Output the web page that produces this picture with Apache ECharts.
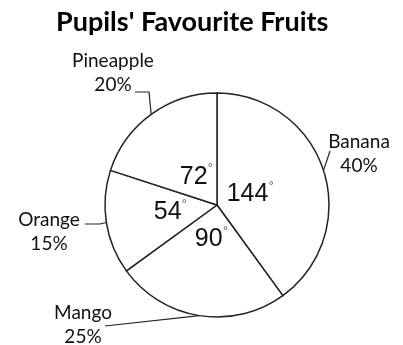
<!DOCTYPE html>
<html>
<head>
<meta charset="utf-8">
<script src="https://cdn.jsdelivr.net/npm/echarts@6/dist/echarts.min.js"></script>
<style>
html,body{margin:0;padding:0;background:#fff;}
#main{width:403px;height:345px;}
</style>
</head>
<body>
<div id="main"></div>
<script>
var fruits = ['Banana', 'Mango', 'Orange', 'Pineapple'];
var percents = [40, 25, 15, 20];
var degrees = [144, 90, 54, 72];

// where the outside labels sit and how their leader lines bend
var labelPos = {
	Banana: [359, 154],
	Mango: [83, 325],
	Orange: [49, 232],
	Pineapple: [113, 73]
};
var lineBends = {
	Banana: [[330, 151]],
	Mango: [[105, 326]],
	Orange: [[100, 224], [85, 224]],
	Pineapple: [[149, 92], [135, 92]]
};

var outerData = [];
var innerData = [];
for (var i = 0; i < fruits.length; i++) {
	outerData.push({name: fruits[i], value: percents[i]});
	var item = {name: fruits[i], value: percents[i], deg: degrees[i]};
	if (fruits[i] == 'Orange') {
		item.label = {offset: [-12, 2]};
	}
	innerData.push(item);
}

var myChart = echarts.init(document.getElementById('main'));
var option = {
	animation: false,
	title: {
		text: "Pupils' Favourite Fruits",
		left: 51,
		top: 4,
		textStyle: {fontFamily: 'Lato', fontWeight: 'bold', fontSize: 27, color: '#000'}
	},
	series: [
		{
			type: 'pie',
			center: [217, 205],
			radius: [0, 112],
			startAngle: 90,
			clockwise: true,
			itemStyle: {color: '#fff', borderColor: '#222', borderWidth: 1.5},
			emphasis: {disabled: true},
			label: {
				show: true,
				position: 'outside',
				overflow: 'none',
				fontFamily: 'Lato',
				fontSize: 19,
				lineHeight: 24,
				color: '#111',
				align: 'center',
				formatter: function (p) {
					return p.name + '\n' + p.value + '%';
				}
			},
			labelLine: {show: true, lineStyle: {color: '#222', width: 1.2}},
			labelLayout: function (params) {
				var name = fruits[params.dataIndex];
				var pts = params.labelLinePoints;
				var linePts = [pts[0]].concat(lineBends[name]);
				if (linePts.length < 3) linePts.push(linePts[linePts.length - 1]);
				return {
					x: labelPos[name][0],
					y: labelPos[name][1],
					align: 'center',
					verticalAlign: 'middle',
					width: 120,
					labelLinePoints: linePts
				};
			},
			data: outerData
		},
		{
			type: 'pie',
			center: [217, 205],
			radius: [0, 64],
			startAngle: 90,
			clockwise: true,
			silent: true,
			itemStyle: {color: 'transparent', borderWidth: 0},
			label: {
				show: true,
				position: 'inside',
				formatter: function (p) {
					return '{a|' + p.data.deg + '}{d|°}';
				},
				rich: {
					a: {fontFamily: 'Liberation Sans', fontSize: 25, color: '#111', lineHeight: 28},
					d: {fontFamily: 'DejaVu Sans', fontSize: 11, color: '#555', verticalAlign: 'top', lineHeight: 28}
				}
			},
			labelLine: {show: false},
			data: innerData
		}
	]
};
myChart.setOption(option);
</script>
</body>
</html>
